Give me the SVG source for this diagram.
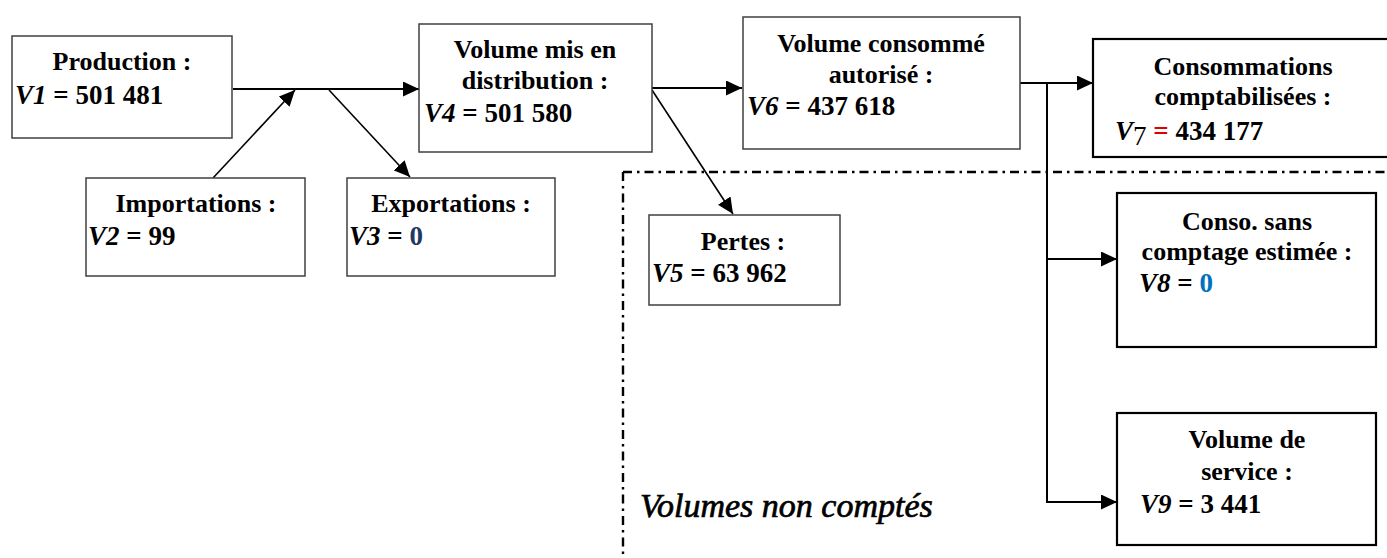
<svg xmlns="http://www.w3.org/2000/svg" width="1387" height="558" viewBox="0 0 1387 558">
<defs>
<style>
.box{fill:#fff;stroke:#404040;stroke-width:1.5}
.boxb{fill:#fff;stroke:#000;stroke-width:2.2}
.t{font-family:"Liberation Serif","Times New Roman",serif;font-weight:bold;font-size:26px;fill:#000}
.n{font-size:27px}
.c{text-anchor:middle}
.v{font-style:italic}
.ln{stroke:#000;stroke-width:2;fill:none}
.dl{stroke:#000;stroke-width:1.6;fill:none}
.dd{stroke:#000;stroke-width:2.4;fill:none;stroke-dasharray:9 5 2.5 5}
.lbl{font-family:"Liberation Serif","Times New Roman",serif;font-style:italic;font-size:34px;fill:#000;stroke:#000;stroke-width:0.7}
</style>
<marker id="ah" markerUnits="userSpaceOnUse" markerWidth="17" markerHeight="15" refX="16" refY="7.5" orient="auto">
<path d="M0,0 L16,7.5 L0,15 z" fill="#000"/>
</marker>
</defs>

<g id="boundary">
<line class="dd" x1="623" y1="172" x2="1387" y2="172"/>
<line class="dd" x1="623" y1="172" x2="623" y2="558"/>
<text class="lbl" x="640" y="517">Volumes non comptés</text>
</g>

<g id="connectors">
<line class="ln" x1="233" y1="89" x2="419" y2="89" marker-end="url(#ah)"/>
<line class="dl" x1="213" y1="178" x2="295" y2="90" marker-end="url(#ah)"/>
<line class="dl" x1="329" y1="90" x2="410" y2="177" marker-end="url(#ah)"/>
<line class="ln" x1="652" y1="88" x2="742" y2="88" marker-end="url(#ah)"/>
<line class="dl" x1="652" y1="90" x2="733" y2="214" marker-end="url(#ah)"/>
<line class="ln" x1="1020" y1="83" x2="1093" y2="83" marker-end="url(#ah)"/>
<line class="ln" x1="1047" y1="83" x2="1047" y2="502"/>
<line class="ln" x1="1047" y1="259" x2="1117" y2="259" marker-end="url(#ah)"/>
<line class="ln" x1="1046" y1="502" x2="1117" y2="502" marker-end="url(#ah)"/>
</g>

<g id="production">
<rect class="box" x="12" y="36" width="220" height="102"/>
<text class="t c" x="122" y="70">Production :</text>
<text class="t n" x="15" y="104"><tspan class="v">V1</tspan> = 501 481</text>
</g>

<g id="importations">
<rect class="box" x="86" y="178" width="219" height="98"/>
<text class="t c" x="196" y="212">Importations :</text>
<text class="t n" x="88" y="245"><tspan class="v">V2</tspan> = 99</text>
</g>

<g id="exportations">
<rect class="box" x="347" y="178" width="208" height="98"/>
<text class="t c" x="451" y="212">Exportations :</text>
<text class="t n" x="349" y="245"><tspan class="v">V3</tspan> = <tspan fill="#1f3864">0</tspan></text>
</g>

<g id="distribution">
<rect class="box" x="419" y="24" width="233" height="128"/>
<text class="t c" x="535" y="58">Volume mis en</text>
<text class="t c" x="535" y="89">distribution :</text>
<text class="t n" x="424" y="122"><tspan class="v">V4</tspan> = 501 580</text>
</g>

<g id="pertes">
<rect class="box" x="649" y="215" width="191" height="90"/>
<text class="t c" x="743" y="250">Pertes :</text>
<text class="t n" x="652" y="282"><tspan class="v">V5</tspan> = 63 962</text>
</g>

<g id="autorise">
<rect class="box" x="743" y="17" width="277" height="132"/>
<text class="t c" x="881" y="52">Volume consommé</text>
<text class="t c" x="881" y="83">autorisé :</text>
<text class="t n" x="747" y="115"><tspan class="v">V6</tspan> = 437 618</text>
</g>

<g id="comptabilisees">
<rect class="boxb" x="1093" y="39" width="310" height="118"/>
<text class="t c" x="1243" y="75">Consommations</text>
<text class="t c" x="1243" y="105">comptabilisées :</text>
<text class="t n" x="1115" y="140"><tspan class="v">V</tspan><tspan dy="5" font-weight="normal">7</tspan><tspan dy="-5"> </tspan><tspan fill="#e00000">=</tspan> 434 177</text>
</g>

<g id="sans-comptage">
<rect class="boxb" x="1117" y="193" width="259" height="154"/>
<text class="t c" x="1247" y="230">Conso. sans</text>
<text class="t c" x="1247" y="260">comptage estimée :</text>
<text class="t n" x="1139" y="292"><tspan class="v">V8</tspan> = <tspan fill="#0070c0">0</tspan></text>
</g>

<g id="service">
<rect class="boxb" x="1117" y="413" width="259" height="132"/>
<text class="t c" x="1247" y="448">Volume de</text>
<text class="t c" x="1247" y="480">service :</text>
<text class="t n" x="1140" y="513"><tspan class="v">V9</tspan> = 3 441</text>
</g>
</svg>
